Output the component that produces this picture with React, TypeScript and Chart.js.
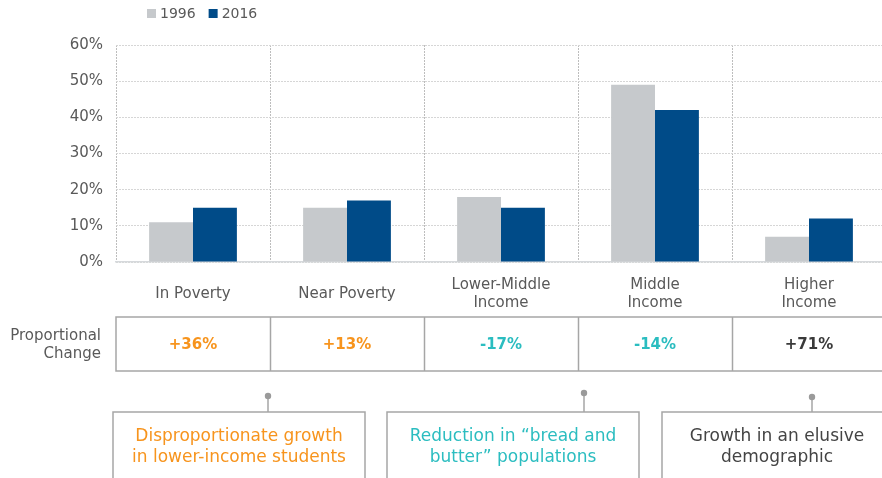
import React, { useEffect, useRef } from 'react';
import { Chart, registerables } from 'chart.js';

Chart.register(...registerables);

// ---- Data ----
const categories: string[][] = [
  ['In Poverty'],
  ['Near Poverty'],
  ['Lower-Middle', 'Income'],
  ['Middle', 'Income'],
  ['Higher', 'Income'],
];
const seriesLabels = ['1996', '2016'];
const values1996 = [11, 15, 18, 49, 7];
const values2016 = [15, 17, 15, 42, 12];
const yTickValues = [0, 10, 20, 30, 40, 50, 60];
const rowTitle = ['Proportional', 'Change'];
const changeLabels = ['+36%', '+13%', '-17%', '-14%', '+71%'];
const noteTexts: string[][] = [
  ['Disproportionate growth', 'in lower-income students'],
  ['Reduction in \u201cbread and', 'butter\u201d populations'],
  ['Growth in an elusive', 'demographic'],
];

// ---- Styles / layout ----
const FONT = '"DejaVu Sans", Verdana, sans-serif';
const TEXT = '#595959';
const ORANGE = '#f7941d';
const TEAL = '#2bbdc0';
const DARK = '#3a3a3a';
const seriesColors = ['#c6c9cc', '#004b88'];
const changeColors = [ORANGE, ORANGE, TEAL, TEAL, DARK];
const noteColors = [ORANGE, TEAL, '#444444'];
const noteLayout = [
  { left: 113, right: 365, dotX: 268, dotY: 396 },
  { left: 387, right: 639, dotX: 584, dotY: 393 },
  { left: 662, right: 892, dotX: 812, dotY: 397 },
];
const TABLE_TOP = 317;
const TABLE_BOTTOM = 371;
const BOX_TOP = 412;

const overlayPlugin = {
  id: 'overlay',
  afterDraw(chart: any) {
    const ctx: CanvasRenderingContext2D = chart.ctx;
    const xs = chart.scales.x;
    ctx.save();

    // Legend
    ctx.font = `14px ${FONT}`;
    ctx.textBaseline = 'middle';
    ctx.textAlign = 'left';
    let lx = 147;
    chart.data.datasets.forEach((ds: any) => {
      ctx.fillStyle = ds.backgroundColor;
      ctx.fillRect(lx, 9, 9, 9);
      ctx.fillStyle = TEXT;
      ctx.fillText(ds.label, lx + 13, 14);
      lx += 13 + ctx.measureText(ds.label).width + 13;
    });

    // Table row
    const n = categories.length;
    const step = (xs.right - xs.left) / n;
    ctx.strokeStyle = '#a6a6a6';
    ctx.lineWidth = 1.5;
    ctx.strokeRect(xs.left, TABLE_TOP, xs.right - xs.left, TABLE_BOTTOM - TABLE_TOP);
    for (let i = 1; i < n; i++) {
      const px = Math.round(xs.left + i * step) + 0.5;
      ctx.beginPath();
      ctx.moveTo(px, TABLE_TOP);
      ctx.lineTo(px, TABLE_BOTTOM);
      ctx.stroke();
    }
    ctx.font = `15px ${FONT}`;
    ctx.fillStyle = TEXT;
    ctx.textAlign = 'right';
    ctx.fillText(rowTitle[0], 101, 336);
    ctx.fillText(rowTitle[1], 101, 354);
    ctx.font = `bold 15px ${FONT}`;
    ctx.textAlign = 'center';
    changeLabels.forEach((t, i) => {
      ctx.fillStyle = changeColors[i];
      ctx.fillText(t, xs.getPixelForValue(i), 345);
    });

    // Note boxes
    ctx.font = `17px ${FONT}`;
    noteTexts.forEach((lines, i) => {
      const b = noteLayout[i];
      ctx.strokeStyle = '#a6a6a6';
      ctx.lineWidth = 1.5;
      ctx.strokeRect(b.left, BOX_TOP, b.right - b.left, 100);
      ctx.beginPath();
      ctx.moveTo(b.dotX, b.dotY);
      ctx.lineTo(b.dotX, BOX_TOP);
      ctx.stroke();
      ctx.fillStyle = '#9a9a9a';
      ctx.beginPath();
      ctx.arc(b.dotX, b.dotY, 3.2, 0, Math.PI * 2);
      ctx.fill();
      ctx.fillStyle = noteColors[i];
      ctx.textAlign = 'center';
      const cx = (b.left + b.right) / 2;
      lines.forEach((l, j) => ctx.fillText(l, cx, 437 + j * 21));
    });

    ctx.restore();
  },
};

export default function App() {
  const ref = useRef<HTMLCanvasElement | null>(null);

  useEffect(() => {
    if (!ref.current) return;
    const chart = new Chart(ref.current, {
      type: 'bar',
      data: {
        labels: categories,
        datasets: [
          { label: seriesLabels[0], data: values1996, backgroundColor: seriesColors[0] },
          { label: seriesLabels[1], data: values2016, backgroundColor: seriesColors[1] },
        ],
      },
      options: {
        responsive: false,
        animation: false,
        devicePixelRatio: 1,
        layout: { padding: { top: 45, left: 0, right: 14, bottom: 0 } },
        datasets: { bar: { categoryPercentage: 0.57, barPercentage: 1 } },
        plugins: { legend: { display: false }, tooltip: { enabled: false } },
        font: { family: FONT },
        scales: {
          x: {
            afterFit: (s: any) => { s.height = 478 - 262; },
            grid: { display: true, offset: true, color: '#bdbdbd', drawTicks: false },
            border: { display: true, color: '#d6d9dc', width: 1.5, dash: [2, 1] },
            ticks: {
              color: TEXT,
              font: { size: 15, family: FONT, lineHeight: 1.2 },
              padding: 23,
              maxRotation: 0,
              minRotation: 0,
              autoSkip: false,
              crossAlign: 'center',
            },
          },
          y: {
            min: 0,
            max: 60,
            afterFit: (s: any) => { s.width = 116; },
            afterBuildTicks: (s: any) => { s.ticks = yTickValues.map((v) => ({ value: v })); },
            grid: { color: '#d6d6d6', drawTicks: false },
            border: { display: false, dash: [2, 1] },
            ticks: {
              color: TEXT,
              font: { size: 15, family: FONT },
              padding: 13,
              callback: (v: any) => `${v}%`,
            },
          },
        },
      } as any,
      plugins: [overlayPlugin],
    });
    return () => chart.destroy();
  }, []);

  return (
    <div style={{ position: 'fixed', left: 0, top: 0, width: 882, height: 478, overflow: 'hidden', background: '#fff' }}>
      <canvas ref={ref} width={900} height={478} style={{ width: 900, height: 478, display: 'block' }} />
    </div>
  );
}
